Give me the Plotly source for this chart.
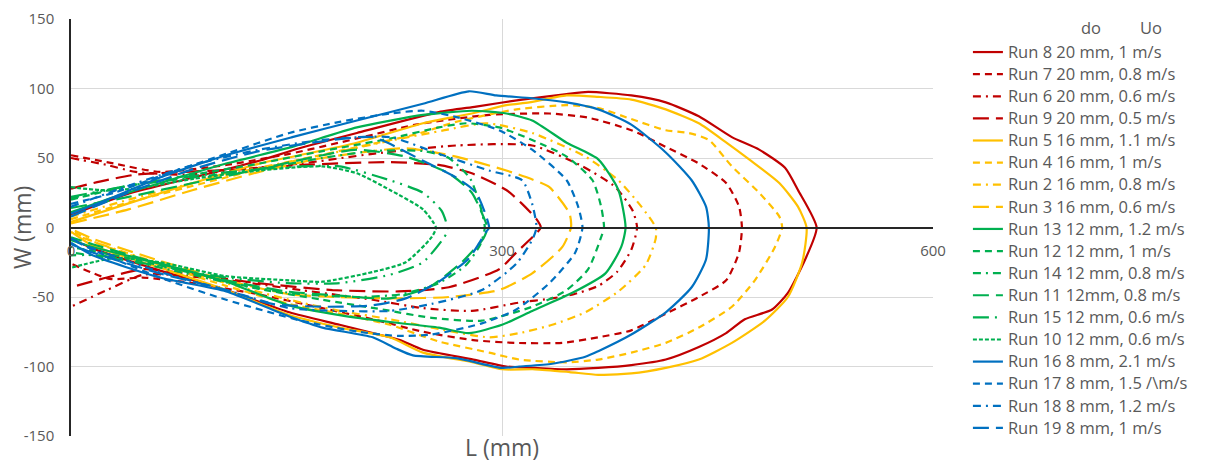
import plotly.graph_objects as go

# ---------------- data (L, W in mm) ----------------
run8_L = [0, 39, 85, 131, 159, 199, 256, 282, 314, 345, 360, 390, 414, 437, 460, 479, 497, 506, 519,
          511, 499, 488, 469, 456, 437, 414, 390, 367, 345, 323, 303, 280, 245, 229, 210, 187, 152, 108, 62, 15, 0]
run8_W = [9, 24, 36, 48, 57, 68, 83, 87, 92, 96, 97.5, 95, 90, 80, 65, 56, 43, 27, 0,
          -23, -47, -59, -66, -76, -86, -95, -99, -101, -102, -101, -100, -95, -88, -81, -76, -70, -61, -45, -31, -15, -8]

run7_L = [0, 30, 62, 108, 152, 199, 240, 291, 333, 360, 390, 414, 437, 456, 465, 467,
          465, 456, 437, 414, 390, 367, 342, 309, 280, 245, 210, 175, 130, 85, 50, 27, 0]
run7_W = [52, 46, 40, 45, 53, 64, 74, 81, 82, 79, 70, 58, 46, 32, 15, 0,
          -18, -38, -50, -62, -74, -79, -83, -83, -81, -75, -66, -58, -48, -40, -36, -37, -26]

run6_L = [0, 25, 45, 80, 120, 160, 210, 268, 321, 356, 379, 391, 394,
          390, 380, 367, 350, 335, 312, 279, 245, 210, 160, 110, 70, 50, 25, 0]
run6_W = [50, 45, 40, 38, 42, 46, 53, 59, 59, 44, 29, 12, 0,
          -16, -32, -42, -48, -51, -54, -60, -58, -52, -45, -38, -34, -34, -45, -57]

run9_L = [0, 20, 45, 80, 120, 160, 222, 256, 279, 303, 314, 324, 327,
          324, 310, 298, 263, 228, 182, 130, 80, 50, 25, 0]
run9_W = [28, 33, 38, 40, 42, 45, 47, 45, 39, 27, 17, 6, 0,
          -4, -18, -30, -43, -46, -45, -40, -33, -30, -36, -43]

run5_L = [0, 39, 85, 131, 159, 199, 245, 279, 303, 319, 345, 367, 390, 414, 437, 455, 472, 493, 506, 512,
          509, 499, 483, 460, 437, 414, 390, 367, 347, 323, 300, 280, 245, 222, 187, 152, 108, 62, 15, 0]
run5_W = [4, 17, 32, 46, 52, 61, 75, 82, 88, 90, 95, 94, 92, 85, 75, 62, 49, 32, 15, 0,
          -25, -50, -67, -83, -95, -101, -105, -106, -104, -102, -102, -97, -90, -79, -72, -63, -45, -29, -13, -3]

run4_L = [0, 40, 85, 131, 160, 200, 240, 268, 310, 345, 367, 390, 414, 430, 444, 460, 479, 493, 495,
          490, 476, 460, 437, 414, 390, 367, 345, 312, 291, 256, 222, 187, 152, 108, 62, 15, 0]
run4_W = [6, 18, 30, 42, 49, 58, 67, 76, 85, 88, 86, 78, 70, 68, 63, 44, 25, 8, 0,
          -14, -38, -57, -72, -83, -90, -95, -97, -95, -90, -82, -70, -62, -55, -42, -27, -10, -2]

run2_L = [0, 40, 85, 131, 175, 220, 260, 289, 321, 358, 381, 397, 407,
          407, 400, 381, 358, 335, 312, 291, 256, 222, 187, 152, 108, 62, 15, 0]
run2_W = [8, 20, 32, 43, 52, 62, 70, 75, 68, 51, 34, 15, 0,
          -8, -27, -46, -61, -70, -76, -79, -73, -66, -60, -52, -40, -26, -10, -4]

run3_L = [0, 40, 85, 131, 175, 233, 268, 303, 320, 333, 347, 348,
          342, 321, 298, 263, 228, 187, 152, 108, 62, 15, 0]
run3_W = [3, 13, 27, 40, 50, 57, 51, 41, 35, 29, 10, 0,
          -14, -33, -45, -50, -51, -50, -48, -38, -24, -8, -1]

run13_L = [0, 30, 62, 108, 154, 199, 245, 279, 303, 321, 345, 367, 381, 386,
           383, 372, 349, 321, 300, 277, 256, 222, 187, 152, 108, 62, 15, 0]
run13_W = [11, 22, 32, 46, 58, 72, 81, 84, 82, 77, 61, 49, 27, 0,
           -14, -33, -47, -60, -70, -76, -72, -68, -63, -56, -39, -26, -14, -9]

run12_L = [0, 40, 85, 131, 175, 222, 256, 275, 298, 321, 345, 363, 369, 371,
           369, 360, 345, 321, 286, 251, 217, 175, 130, 85, 40, 0]
run12_W = [20, 30, 38, 46, 55, 64, 72, 75, 72, 63, 51, 34, 15, 0,
           -7, -30, -45, -57, -67, -65, -59, -52, -44, -33, -22, -14]

run14_L = [0, 40, 85, 131, 175, 210, 245, 263, 278, 285, 288,
           285, 275, 256, 230, 200, 160, 120, 80, 40, 0]
run14_W = [21, 30, 36, 42, 50, 55, 55, 50, 35, 15, 0,
           -12, -27, -40, -48, -50, -48, -42, -33, -24, -18]

run11_L = [0, 40, 85, 131, 175, 199, 233, 263, 279, 289, 290,
           287, 272, 249, 222, 187, 150, 108, 62, 15, 0]
run11_W = [14, 22, 32, 42, 52, 56, 51, 39, 25, 3, 0,
           -8, -25, -43, -51, -49, -46, -38, -26, -12, -7]

run15_L = [0, 40, 85, 131, 160, 187, 222, 245, 258, 262,
           261, 245, 222, 187, 150, 108, 62, 20, 0]
run15_W = [22, 30, 37, 42, 44, 44, 34, 25, 12, 0,
           -5, -25, -34, -40, -40, -36, -28, -20, -20]

run10_L = [0, 20, 45, 85, 131, 175, 199, 222, 245, 254,
           251, 233, 210, 175, 152, 108, 62, 30, 0]
run10_W = [29, 27, 28, 35, 41, 44, 39, 27, 13, 0,
           -7, -25, -32, -39, -38, -35, -25, -22, -29]

run16_L = [0, 30, 62, 108, 154, 199, 245, 277, 296, 321, 345, 367, 390, 414, 432, 442, 444,
           442, 432, 414, 390, 367, 358, 335, 312, 300, 268, 238, 226, 210, 175, 152, 108, 62, 15, 0]
run16_W = [10, 22, 36, 52, 65, 77, 89, 98, 95, 93, 90, 85, 74, 54, 34, 15, 0,
           -23, -43, -61, -77, -89, -93, -98, -100, -101, -94, -92, -87, -79, -72, -64, -46, -36, -20, -11]

run17_L = [0, 30, 62, 108, 152, 187, 222, 245, 270, 298, 321, 345, 353, 356,
           351, 333, 310, 286, 251, 228, 200, 160, 108, 62, 15, 0]
run17_W = [17, 25, 37, 53, 68, 76, 82, 84, 79, 70, 56, 34, 15, 0,
           -18, -40, -59, -69, -77, -78, -75, -67, -52, -36, -16, -8]

run18_L = [0, 40, 85, 131, 175, 222, 256, 291, 314, 321, 324,
           321, 310, 286, 251, 222, 187, 152, 108, 62, 15, 0]
run18_W = [15, 30, 45, 56, 63, 65, 53, 41, 34, 17, 0,
           -9, -26, -45, -55, -60, -60, -58, -45, -32, -15, -8]

run19_L = [0, 40, 85, 131, 175, 210, 245, 268, 282, 291,
           289, 277, 256, 233, 210, 175, 140, 108, 62, 15, 0]
run19_W = [8, 25, 42, 55, 62, 65, 48, 36, 25, 0,
           -3, -22, -39, -51, -56, -57, -55, -45, -33, -18, -12]

names = [
    "Run 8 20 mm, 1 m/s", "Run 7 20 mm, 0.8 m/s", "Run 6 20 mm, 0.6 m/s", "Run 9 20 mm, 0.5 m/s",
    "Run 5 16 mm, 1.1 m/s", "Run 4 16 mm, 1 m/s", "Run 2 16 mm, 0.8 m/s", "Run 3 16 mm, 0.6 m/s",
    "Run 13 12 mm, 1.2 m/s", "Run 12 12 mm, 1 m/s", "Run 14 12 mm, 0.8 m/s", "Run 11 12mm, 0.8 m/s",
    "Run 15 12 mm, 0.6 m/s", "Run 10 12 mm, 0.6 m/s", "Run 16 8 mm, 2.1 m/s", "Run 17 8 mm, 1.5 /\\m/s",
    "Run 18 8 mm, 1.2 m/s", "Run 19 8 mm, 1 m/s",
]
x_ticks = [0, 300, 600]
x_tick_text = ["0", "300", "600"]
y_ticks = [-150, -100, -50, 0, 50, 100, 150]
y_tick_text = ["-150", "-100", "-50", "0", "50", "100", "150"]

# ---------------- styles ----------------
RED, YEL, GRN, BLU = "#C00000", "#FFC000", "#00B050", "#0070C0"
SOLID = "solid"
DASH = "7px,5px"
DASHDOT = "8px,5px,2px,5px"
LONG = "16px,7px"
LDD = "16px,6px,2px,6px,2px,6px"
DOT = "4px,2px"

series = [
    (run8_L, run8_W, RED, SOLID), (run7_L, run7_W, RED, DASH),
    (run6_L, run6_W, RED, DASHDOT), (run9_L, run9_W, RED, LONG),
    (run5_L, run5_W, YEL, SOLID), (run4_L, run4_W, YEL, DASH),
    (run2_L, run2_W, YEL, DASHDOT), (run3_L, run3_W, YEL, LONG),
    (run13_L, run13_W, GRN, SOLID), (run12_L, run12_W, GRN, DASH),
    (run14_L, run14_W, GRN, DASHDOT), (run11_L, run11_W, GRN, LONG),
    (run15_L, run15_W, GRN, LDD), (run10_L, run10_W, GRN, DOT),
    (run16_L, run16_W, BLU, SOLID), (run17_L, run17_W, BLU, DASH),
    (run18_L, run18_W, BLU, DASHDOT), (run19_L, run19_W, BLU, LONG),
]

FONT = "Open Sans"
GREY = "#595959"
LEG_TXT = 16.5
LEG_BASE = 14.7

# plot area in pixels: left 71, right 935, top 19, bottom 436
PL, PR, PT, PB = 71, 935, 19, 436


def px2paper_x(px):
    return (px - PL) / float(PR - PL)


def px2paper_y(py):
    return (PB - py) / float(PB - PT)


fig = go.Figure()
for name, (L, W, col, dash) in zip(names, series):
    fig.add_trace(go.Scatter(
        x=L, y=W, mode="lines",
        name='<span style="font-size:%gpx">%s</span>' % (LEG_TXT, name),
        line=dict(color=col, width=2.2, dash=dash, shape="spline", smoothing=0.6),
    ))

fig.update_layout(
    width=1205, height=462,
    margin=dict(l=PL, r=1205 - PR, t=PT, b=462 - PB),
    paper_bgcolor="white", plot_bgcolor="white",
    font=dict(family=FONT, size=15, color=GREY),
    showlegend=True,
    legend=dict(
        x=px2paper_x(970), xanchor="left", y=px2paper_y(36), yanchor="top",
        font=dict(family=FONT, size=LEG_BASE, color=GREY),
        bgcolor="rgba(0,0,0,0)", tracegroupgap=0,
    ),
    xaxis=dict(
        range=[0, 600], tickvals=x_ticks, ticktext=x_tick_text,
        showgrid=True, gridcolor="#D9D9D9", gridwidth=1,
        zeroline=False, showline=True, linecolor="#262626", linewidth=1.5,
        anchor="free", position=0.5, ticks="", ticklabelstandoff=10,
        automargin=False,
        tickfont=dict(family=FONT, size=15, color=GREY),
    ),
    yaxis=dict(
        range=[-150, 150], tickvals=y_ticks, ticktext=y_tick_text,
        showgrid=True, gridcolor="#D9D9D9", gridwidth=1,
        zeroline=False, showline=True, linecolor="#262626", linewidth=1.5,
        ticks="", ticklabelstandoff=12, automargin=False,
        tickfont=dict(family=FONT, size=15, color=GREY),
    ),
)

fig.add_annotation(text="L (mm)", x=px2paper_x(503), y=px2paper_y(447), xref="paper", yref="paper",
                   xanchor="center", yanchor="middle", showarrow=False,
                   font=dict(family=FONT, size=23, color=GREY))
fig.add_annotation(text="W (mm)", x=px2paper_x(22), y=px2paper_y(228), xref="paper", yref="paper",
                   xanchor="center", yanchor="middle", showarrow=False, textangle=-90,
                   font=dict(family=FONT, size=23, color=GREY))
for hdr, hx in (("do", 1093), ("Uo", 1154)):
    fig.add_annotation(text=hdr, x=px2paper_x(hx), y=px2paper_y(28), xref="paper", yref="paper",
                       showarrow=False, xanchor="center", yanchor="middle", borderpad=0,
                       font=dict(family=FONT, size=LEG_TXT, color=GREY))

fig.write_html("out.html")
